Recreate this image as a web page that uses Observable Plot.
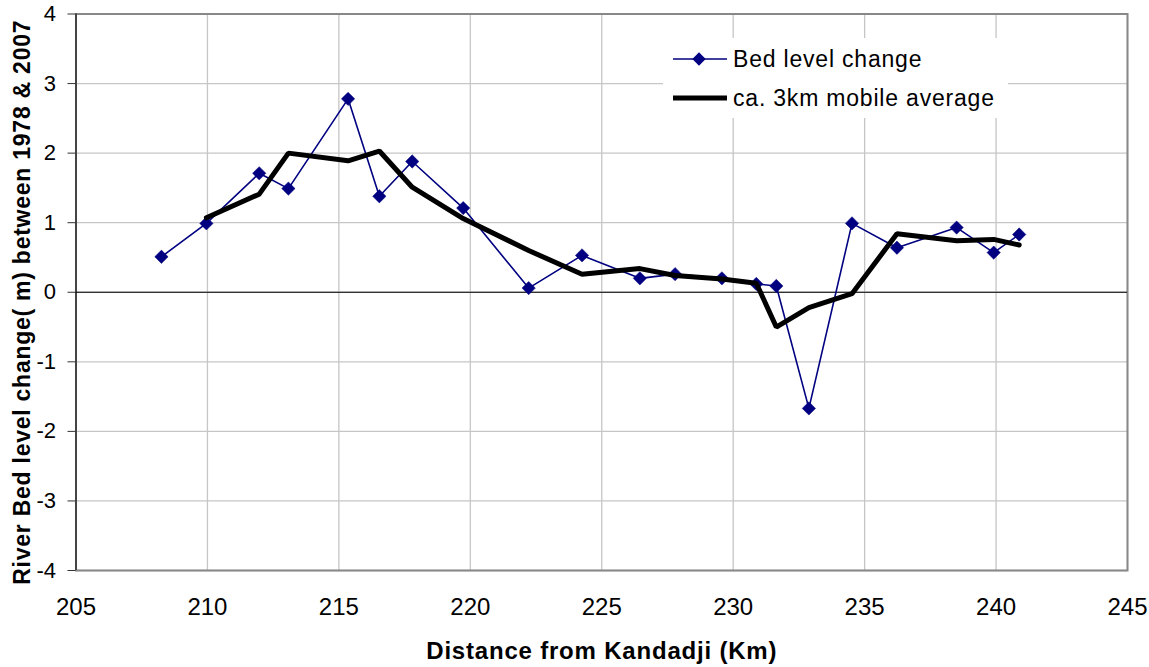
<!DOCTYPE html>
<html>
<head>
<meta charset="utf-8">
<script src="https://cdn.jsdelivr.net/npm/d3@7"></script>
<script src="https://cdn.jsdelivr.net/npm/@observablehq/plot@0.6"></script>
<style>
  html, body { margin: 0; padding: 0; background: #fff; }
  #chart { width: 1149px; height: 667px; }
</style>
</head>
<body>
<div id="chart"></div>
<script>
// Distance from Kandadji (km) of each surveyed cross-section
const km = [208.25, 209.96, 211.97, 213.08, 215.35, 216.54, 217.79, 219.73, 222.22, 224.25, 226.45,
            227.79, 229.57, 230.88, 231.64, 232.88, 234.52, 236.23, 238.5, 239.91, 240.88];
// Bed level change (m) between 1978 & 2007
const bedChange = [0.51, 0.99, 1.71, 1.49, 2.78, 1.38, 1.88, 1.21, 0.06, 0.53, 0.20,
                   0.26, 0.20, 0.12, 0.09, -1.67, 0.99, 0.64, 0.93, 0.57, 0.83];
// ca. 3 km mobile average (starts at the second section)
const avgKm = [209.96, 211.97, 213.08, 215.35, 216.54, 217.79, 219.73, 222.22, 224.25, 226.45,
               227.79, 229.57, 230.88, 231.64, 232.88, 234.52, 236.23, 238.5, 239.91, 240.88];
const mobileAvg = [1.07, 1.41, 2.0, 1.89, 2.03, 1.51, 1.06, 0.6, 0.26, 0.34,
                   0.24, 0.19, 0.13, -0.50, -0.22, -0.02, 0.84, 0.74, 0.76, 0.68];

const xTicks = [205, 210, 215, 220, 225, 230, 235, 240, 245];
const yTicks = [-4, -3, -2, -1, 0, 1, 2, 3, 4];

const seriesNames = ["Bed level change", "ca. 3km mobile average"];
const xTitle = "Distance from Kandadji (Km)";
const yTitle = "River Bed level change( m) between 1978 & 2007";

const bed = km.map((k, i) => ({km: k, v: bedChange[i]}));
const avg = avgKm.map((k, i) => ({km: k, v: mobileAvg[i]}));

const FONT = "'Liberation Sans', Arial, Helvetica, sans-serif";
const plain = d => String(d);

const plot = Plot.plot({
  width: 1149,
  height: 667,
  marginLeft: 75.5,
  marginRight: 22,
  marginTop: 13.5,
  marginBottom: 97,
  style: {fontFamily: FONT, background: "#fff", color: "#000"},
  x: {domain: [205, 245]},
  y: {domain: [-4, 4]},
  marks: [
    Plot.gridX(xTicks, {stroke: "#c6c6c6", strokeOpacity: 1, strokeWidth: 1.3}),
    Plot.gridY(yTicks, {stroke: "#c6c6c6", strokeOpacity: 1, strokeWidth: 1.3}),
    Plot.frame({stroke: "#888", strokeWidth: 2}),
    Plot.ruleX([205], {stroke: "#444", strokeWidth: 2}),
    Plot.ruleY([0], {stroke: "#000", strokeWidth: 1}),
    Plot.axisX(xTicks, {
      tickSize: 0, tickPadding: 27, fontSize: 24, tickFormat: plain,
      label: xTitle, labelAnchor: "center", labelArrow: "none", labelOffset: 88
    }),
    Plot.axisY(yTicks, {
      tickSize: 8, tickPadding: 12, fontSize: 22, stroke: "#333", tickFormat: plain,
      label: yTitle, labelAnchor: "center", labelArrow: "none", labelOffset: 62
    }),
    Plot.line(bed, {x: "km", y: "v", stroke: "#000080", strokeWidth: 1.6}),
    Plot.dot(bed, {x: "km", y: "v", symbol: "diamond2", r: 6, fill: "#000080", stroke: "#000080", strokeWidth: 0.5}),
    Plot.line(avg, {x: "km", y: "v", stroke: "#000", strokeWidth: 5, strokeLinejoin: "miter"})
  ]
});

document.getElementById("chart").appendChild(plot);

const svg = d3.select(plot);
svg.selectAll("[aria-label='x-axis tick label'] text").style("font-size", "24px");
svg.selectAll("[aria-label='y-axis tick label'] text").style("font-size", "22px");
// axis title styling
svg.selectAll("[aria-label='x-axis label'] text")
  .style("font-weight", "bold").style("font-size", "24px").style("letter-spacing", "0.8px");
svg.selectAll("[aria-label='y-axis label'] text")
  .style("font-weight", "bold").style("font-size", "23px").style("letter-spacing", "0.75px")
  .attr("dx", -10);

// legend (inside plot area, top right)
const lg = svg.append("g").attr("font-family", FONT).attr("font-size", 23)
  .attr("text-anchor", "start").style("letter-spacing", "0.8px");
lg.append("rect").attr("x", 663).attr("y", 38).attr("width", 345).attr("height", 80).attr("fill", "#fff");
lg.append("line").attr("x1", 673).attr("x2", 727).attr("y1", 59).attr("y2", 59)
  .attr("stroke", "#000080").attr("stroke-width", 1.6);
lg.append("path").attr("d", d3.symbol(d3.symbolDiamond2, 6 * 6 * Math.PI)())
  .attr("transform", "translate(699,59)").attr("fill", "#000080");
lg.append("text").attr("x", 733).attr("y", 59).attr("dy", "0.35em").text(seriesNames[0]);
lg.append("line").attr("x1", 673).attr("x2", 727).attr("y1", 98).attr("y2", 98)
  .attr("stroke", "#000").attr("stroke-width", 5);
lg.append("text").attr("x", 733).attr("y", 98).attr("dy", "0.35em").text(seriesNames[1]);
</script>
</body>
</html>
